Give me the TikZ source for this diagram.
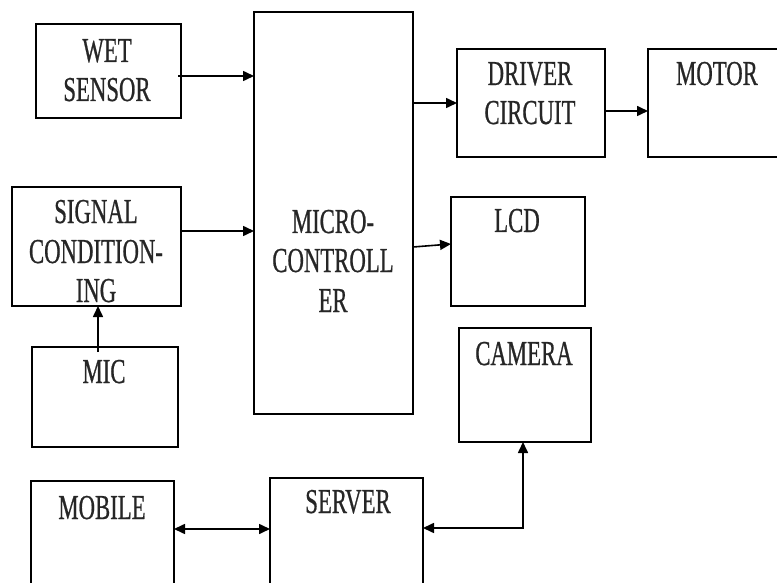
\documentclass[tikz,border=0pt]{standalone}
\usepackage{fontspec}
\setmainfont{Liberation Serif}[FakeStretch=0.65,FakeBold=0.6]
\usetikzlibrary{arrows.meta}
\begin{document}
\begin{tikzpicture}[x=1pt,y=-1pt,
  blk/.style={draw=black, line width=1.8pt, rectangle, inner sep=0pt, outer sep=0pt, anchor=north west},
  lbl/.style={inner sep=0pt, anchor=base, align=center, text=black!85, font=\fontsize{35}{39}\selectfont},
  conn/.style={line width=1.6pt, -{Triangle[length=11pt,width=10pt]}},
  biconn/.style={line width=1.6pt, {Triangle[length=11pt,width=10pt]}-{Triangle[length=11pt,width=10pt]}}]
\useasboundingbox (0,0) rectangle (777,583);
\clip (0,0) rectangle (777,583);
% boxes
\node[blk, minimum width=145pt, minimum height=94pt]  (wet)    at (36,24)   {};
\node[blk, minimum width=169pt, minimum height=119pt] (sig)    at (12,187)  {};
\node[blk, minimum width=159pt, minimum height=402pt] (mc)     at (254,12)  {};
\node[blk, minimum width=148pt, minimum height=108pt] (drv)    at (457,49)  {};
\node[blk, minimum width=142pt, minimum height=108pt] (motor)  at (648,49)  {};
\node[blk, minimum width=134pt, minimum height=109pt] (lcd)    at (451,197) {};
\node[blk, minimum width=146pt, minimum height=100pt] (mic)    at (32,347)  {};
\node[blk, minimum width=132pt, minimum height=114pt] (cam)    at (459,328) {};
\node[blk, minimum width=143pt, minimum height=130pt] (mob)    at (31,481)  {};
\node[blk, minimum width=153pt, minimum height=130pt] (srv)    at (270,478) {};
% labels (one node per printed line)
\node[lbl] (t1) at (107,62)  {WET};
\node[lbl] (t2) at (107,101) {SENSOR};
\node[lbl] (t3) at (96,223)  {SIGNAL};
\node[lbl] (t4) at (96,263)  {CONDITION-};
\node[lbl] (t5) at (96,302)  {ING};
\node[lbl] (t6) at (333,233) {MICRO-};
\node[lbl] (t7) at (333,272) {CONTROLL};
\node[lbl] (t8) at (333,312) {ER};
\node[lbl] (t9) at (530,85)  {DRIVER};
\node[lbl] (t10) at (530,124) {CIRCUIT};
\node[lbl] (t11) at (717,85)  {MOTOR};
\node[lbl] (t12) at (517,232) {LCD};
\node[lbl] (t13) at (104,383) {MIC};
\node[lbl] (t14) at (524,365) {CAMERA};
\node[lbl] (t15) at (102,519) {MOBILE};
\node[lbl] (t16) at (348,513) {SERVER};
% connectors
\coordinate (c1) at (178,76);
\draw[conn] (c1) -- (c1 -| mc.west);
\coordinate (c2) at (181,231);
\draw[conn] (c2) -- (c2 -| mc.west);
\coordinate (c3) at (413,103);
\draw[conn] (c3) -- (c3 -| drv.west);
\coordinate (c4) at (605,111);
\draw[conn] (c4) -- (c4 -| motor.west);
\coordinate (c5) at (413,247);
\coordinate (c5e) at (451,244);
\draw[conn] (c5) -- (c5e);
\coordinate (c6) at (98,352);
\draw[conn] (c6) -- (c6 |- sig.south);
\coordinate (c7) at (174,529);
\draw[biconn] (c7) -- (c7 -| srv.west);
\coordinate (c8) at (423,528);
\coordinate (c9) at (523,528);
\draw[biconn] (c8) -- (c9) -- (c9 |- cam.south);
\end{tikzpicture}
\end{document}
